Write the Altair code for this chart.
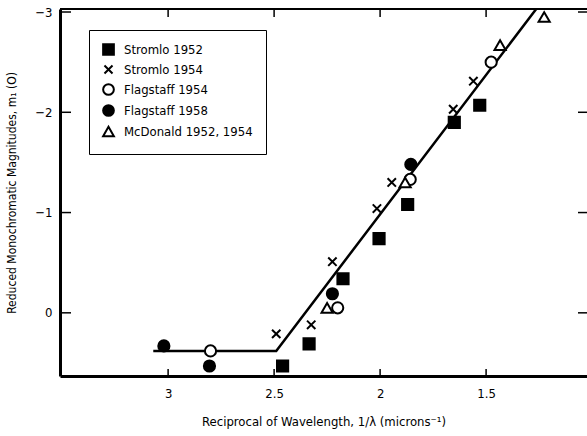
import altair as alt
import pandas as pd

# ---- data ----
series = ["Stromlo 1952", "Stromlo 1954", "Flagstaff 1954", "Flagstaff 1958", "McDonald 1952, 1954"]

stromlo52_x = [2.46, 2.335, 2.175, 2.005, 1.87, 1.65, 1.53]
stromlo52_y = [0.53, 0.31, -0.34, -0.74, -1.08, -1.90, -2.07]
stromlo54_x = [2.49, 2.325, 2.225, 2.015, 1.945, 1.655, 1.56]
stromlo54_y = [0.21, 0.12, -0.51, -1.04, -1.30, -2.03, -2.31]
flag54_x = [2.80, 2.20, 1.858, 1.476]
flag54_y = [0.38, -0.05, -1.33, -2.50]
flag58_x = [3.02, 2.805, 2.225, 1.855]
flag58_y = [0.33, 0.53, -0.19, -1.48]
mcd_x = [2.25, 1.882, 1.434, 1.226]
mcd_y = [-0.05, -1.30, -2.67, -2.95]

fit_x = [3.07, 2.49, 1.26]
fit_y = [0.38, 0.38, -3.04]

x_ticks = [3, 2.5, 2, 1.5]
y_ticks = [-3, -2, -1, 0]

rows = []
for name, xs, ys in zip(series,
                        [stromlo52_x, stromlo54_x, flag54_x, flag58_x, mcd_x],
                        [stromlo52_y, stromlo54_y, flag54_y, flag58_y, mcd_y]):
    for a, b in zip(xs, ys):
        rows.append({"series": name, "x": a, "y": b})
df = pd.DataFrame(rows)
fit_df = pd.DataFrame({"x": fit_x, "y": fit_y})
xt_df = pd.DataFrame({"x": x_ticks})
yt_df = pd.DataFrame({"y": y_ticks})

# ---- style ----
W, H = 527, 367
FONT = "Liberation Sans Narrow, DejaVu Sans Condensed, sans-serif"
XPATH = "M-0.75,-0.75L0.75,0.75M-0.75,0.75L0.75,-0.75"

xscale = alt.Scale(domain=[1.024, 3.51], reverse=True, nice=False, zero=False)
yscale = alt.Scale(domain=[-3.03, 0.63], reverse=True, nice=False, zero=False)

xaxis = alt.Axis(values=x_ticks, format="~g", ticks=False, grid=False,
                 domainColor="black", domainWidth=3,
                 labelFont=FONT, labelFontSize=13, labelColor="black", labelPadding=11,
                 title="Reciprocal of Wavelength, 1/λ (microns⁻¹)",
                 titleFont=FONT, titleFontSize=13, titleFontWeight="normal",
                 titleColor="black", titlePadding=15)
yaxis = alt.Axis(values=y_ticks, format="~g", ticks=False, grid=False,
                 domainColor="black", domainWidth=3,
                 labelFont=FONT, labelFontSize=13, labelColor="black", labelPadding=8,
                 title="Reduced Monochromatic Magnitudes, m₁ (O)",
                 titleFont=FONT, titleFontSize=12, titleFontWeight="normal",
                 titleColor="black", titlePadding=16)

X = lambda f="x": alt.X(f"{f}:Q", scale=xscale, axis=xaxis)
Y = lambda f="y": alt.Y(f"{f}:Q", scale=yscale, axis=yaxis)

legend = alt.Legend(orient="none", legendX=29, legendY=21, title=None,
                    strokeColor="black", fillColor="white", padding=13,
                    labelFont=FONT, labelFontSize=13, labelColor="black",
                    symbolSize=115, symbolStrokeWidth=2, symbolStrokeColor="black",
                    rowPadding=2, labelOffset=9)

shape_scale = alt.Scale(domain=series, range=["square", XPATH, "circle", "circle", "triangle-up"])
fill_scale = alt.Scale(domain=series, range=["black", "black", "white", "black", "white"])
stroke_scale = alt.Scale(domain=series, range=["black"] * 5)

points = alt.Chart(df).mark_point(filled=True, strokeWidth=2, size=125, opacity=1).encode(
    x=X(), y=Y(),
    shape=alt.Shape("series:N", scale=shape_scale, legend=legend),
    fill=alt.Fill("series:N", scale=fill_scale, legend=legend),
    stroke=alt.Stroke("series:N", scale=stroke_scale, legend=legend),
)

fit = alt.Chart(fit_df).mark_line(color="black", strokeWidth=2.5, clip=True).encode(x=X(), y=Y())

bottom_ticks = alt.Chart(xt_df).mark_rule(color="black", strokeWidth=1.5).encode(
    x=X(), y=alt.value(H), y2=alt.value(H - 7))
top_ticks = alt.Chart(xt_df).mark_rule(color="black", strokeWidth=1.5).encode(
    x=X(), y=alt.value(0), y2=alt.value(8))
left_ticks = alt.Chart(yt_df).mark_rule(color="black", strokeWidth=1.5).encode(
    y=Y(), x=alt.value(0), x2=alt.value(11))
right_ticks = alt.Chart(yt_df).mark_rule(color="black", strokeWidth=1.5).encode(
    y=Y(), x=alt.value(W - 9), x2=alt.value(W))
top_line = alt.Chart(xt_df).mark_rule(color="black", strokeWidth=2).encode(
    x=alt.value(0), x2=alt.value(W), y=alt.value(0))

chart = alt.layer(top_line, bottom_ticks, top_ticks, left_ticks, right_ticks, fit, points).properties(
    width=W, height=H,
    autosize=alt.AutoSizeParams(type="none"),
    padding={"left": 60, "top": 9, "right": 0, "bottom": 60},
    background="white",
).configure_view(stroke=None)

chart.save("out.html", embed_options={"renderer": "svg", "actions": False})
